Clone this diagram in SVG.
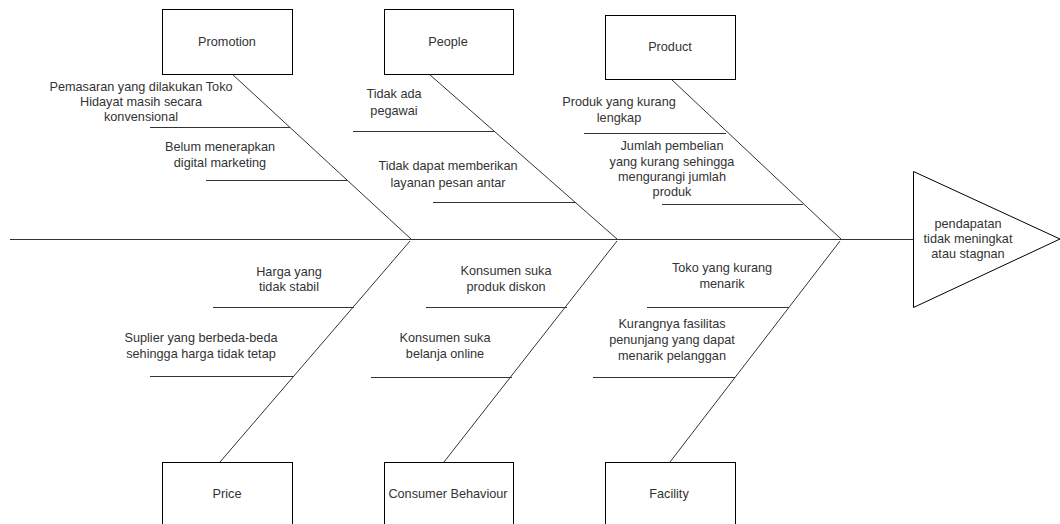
<svg xmlns="http://www.w3.org/2000/svg" width="1060" height="524" viewBox="0 0 1060 524">
<style>
.box{fill:#fff;stroke:#000;stroke-width:1}
.ln{stroke:#333;stroke-width:1;fill:none}
.t{font-family:"Liberation Sans",Arial,sans-serif;font-size:12.7px;fill:#333;text-anchor:middle}
</style>
<rect width="1060" height="524" fill="#fff"/>
<g id="connectors">
<line class="ln" x1="10" y1="239.5" x2="913" y2="239.5"/>
<line class="ln" x1="232" y1="74" x2="411" y2="239"/>
<line class="ln" x1="150" y1="127.5" x2="290" y2="127.5"/>
<line class="ln" x1="206" y1="180.5" x2="347" y2="180.5"/>
<line class="ln" x1="429" y1="74" x2="617" y2="239"/>
<line class="ln" x1="353" y1="131.5" x2="494" y2="131.5"/>
<line class="ln" x1="433" y1="202.5" x2="575" y2="202.5"/>
<line class="ln" x1="671" y1="79" x2="841" y2="239"/>
<line class="ln" x1="584" y1="133.5" x2="726" y2="133.5"/>
<line class="ln" x1="662" y1="204.5" x2="803" y2="204.5"/>
<line class="ln" x1="220" y1="462" x2="410" y2="241"/>
<line class="ln" x1="213" y1="307.5" x2="354" y2="307.5"/>
<line class="ln" x1="150" y1="376.5" x2="293" y2="376.5"/>
<line class="ln" x1="444" y1="462" x2="617" y2="241"/>
<line class="ln" x1="426" y1="307.5" x2="567" y2="307.5"/>
<line class="ln" x1="371" y1="377.5" x2="512" y2="377.5"/>
<line class="ln" x1="670" y1="462" x2="840" y2="241"/>
<line class="ln" x1="647" y1="307.5" x2="789" y2="307.5"/>
<line class="ln" x1="593" y1="377.5" x2="735" y2="377.5"/>
</g>
<g id="promotion">
<rect class="box" x="162.5" y="9.5" width="130" height="65"/>
<text class="t" x="227" y="46">Promotion</text>
</g>
<g id="people">
<rect class="box" x="384.5" y="9.5" width="129" height="65"/>
<text class="t" x="448" y="46">People</text>
</g>
<g id="product">
<rect class="box" x="605.5" y="15.5" width="130" height="64"/>
<text class="t" x="670" y="51">Product</text>
</g>
<g id="price">
<rect class="box" x="162.5" y="462.5" width="130" height="65"/>
<text class="t" x="227" y="498">Price</text>
</g>
<g id="consumer-behaviour">
<rect class="box" x="384.5" y="462.5" width="129" height="65"/>
<text class="t" x="448" y="498">Consumer Behaviour</text>
</g>
<g id="facility">
<rect class="box" x="605.5" y="462.5" width="130" height="65"/>
<text class="t" x="669" y="498">Facility</text>
</g>
<g id="effect">
<polygon class="box" points="913.5,171.5 913.5,307.5 1060,239"/>
<text class="t" x="968"><tspan x="968" y="228">pendapatan</tspan><tspan x="968" y="243">tidak meningkat</tspan><tspan x="968" y="258">atau stagnan</tspan></text>
</g>
<g id="cause-promotion-1">
<text class="t"><tspan x="141" y="91">Pemasaran yang dilakukan Toko</tspan><tspan x="141" y="106">Hidayat masih secara</tspan><tspan x="141" y="121">konvensional</tspan></text>
</g>
<g id="cause-promotion-2">
<text class="t"><tspan x="220" y="151">Belum menerapkan</tspan><tspan x="220" y="167">digital marketing</tspan></text>
</g>
<g id="cause-people-1">
<text class="t"><tspan x="394" y="98">Tidak ada</tspan><tspan x="394" y="115">pegawai</tspan></text>
</g>
<g id="cause-people-2">
<text class="t"><tspan x="448" y="170">Tidak dapat memberikan</tspan><tspan x="448" y="187">layanan pesan antar</tspan></text>
</g>
<g id="cause-product-1">
<text class="t"><tspan x="619" y="106">Produk yang kurang</tspan><tspan x="619" y="122">lengkap</tspan></text>
</g>
<g id="cause-product-2">
<text class="t"><tspan x="672" y="150">Jumlah pembelian</tspan><tspan x="672" y="166">yang kurang sehingga</tspan><tspan x="672" y="181">mengurangi jumlah</tspan><tspan x="672" y="196">produk</tspan></text>
</g>
<g id="cause-price-1">
<text class="t"><tspan x="289" y="276">Harga yang</tspan><tspan x="289" y="291">tidak stabil</tspan></text>
</g>
<g id="cause-price-2">
<text class="t"><tspan x="201" y="342">Suplier yang berbeda-beda</tspan><tspan x="201" y="358">sehingga harga tidak tetap</tspan></text>
</g>
<g id="cause-consumer-1">
<text class="t"><tspan x="506" y="275">Konsumen suka</tspan><tspan x="506" y="291">produk diskon</tspan></text>
</g>
<g id="cause-consumer-2">
<text class="t"><tspan x="445" y="342">Konsumen suka</tspan><tspan x="445" y="358">belanja online</tspan></text>
</g>
<g id="cause-facility-1">
<text class="t"><tspan x="722" y="272">Toko yang kurang</tspan><tspan x="722" y="288">menarik</tspan></text>
</g>
<g id="cause-facility-2">
<text class="t"><tspan x="672" y="328">Kurangnya fasilitas</tspan><tspan x="672" y="344">penunjang yang dapat</tspan><tspan x="672" y="360">menarik pelanggan</tspan></text>
</g>
</svg>
